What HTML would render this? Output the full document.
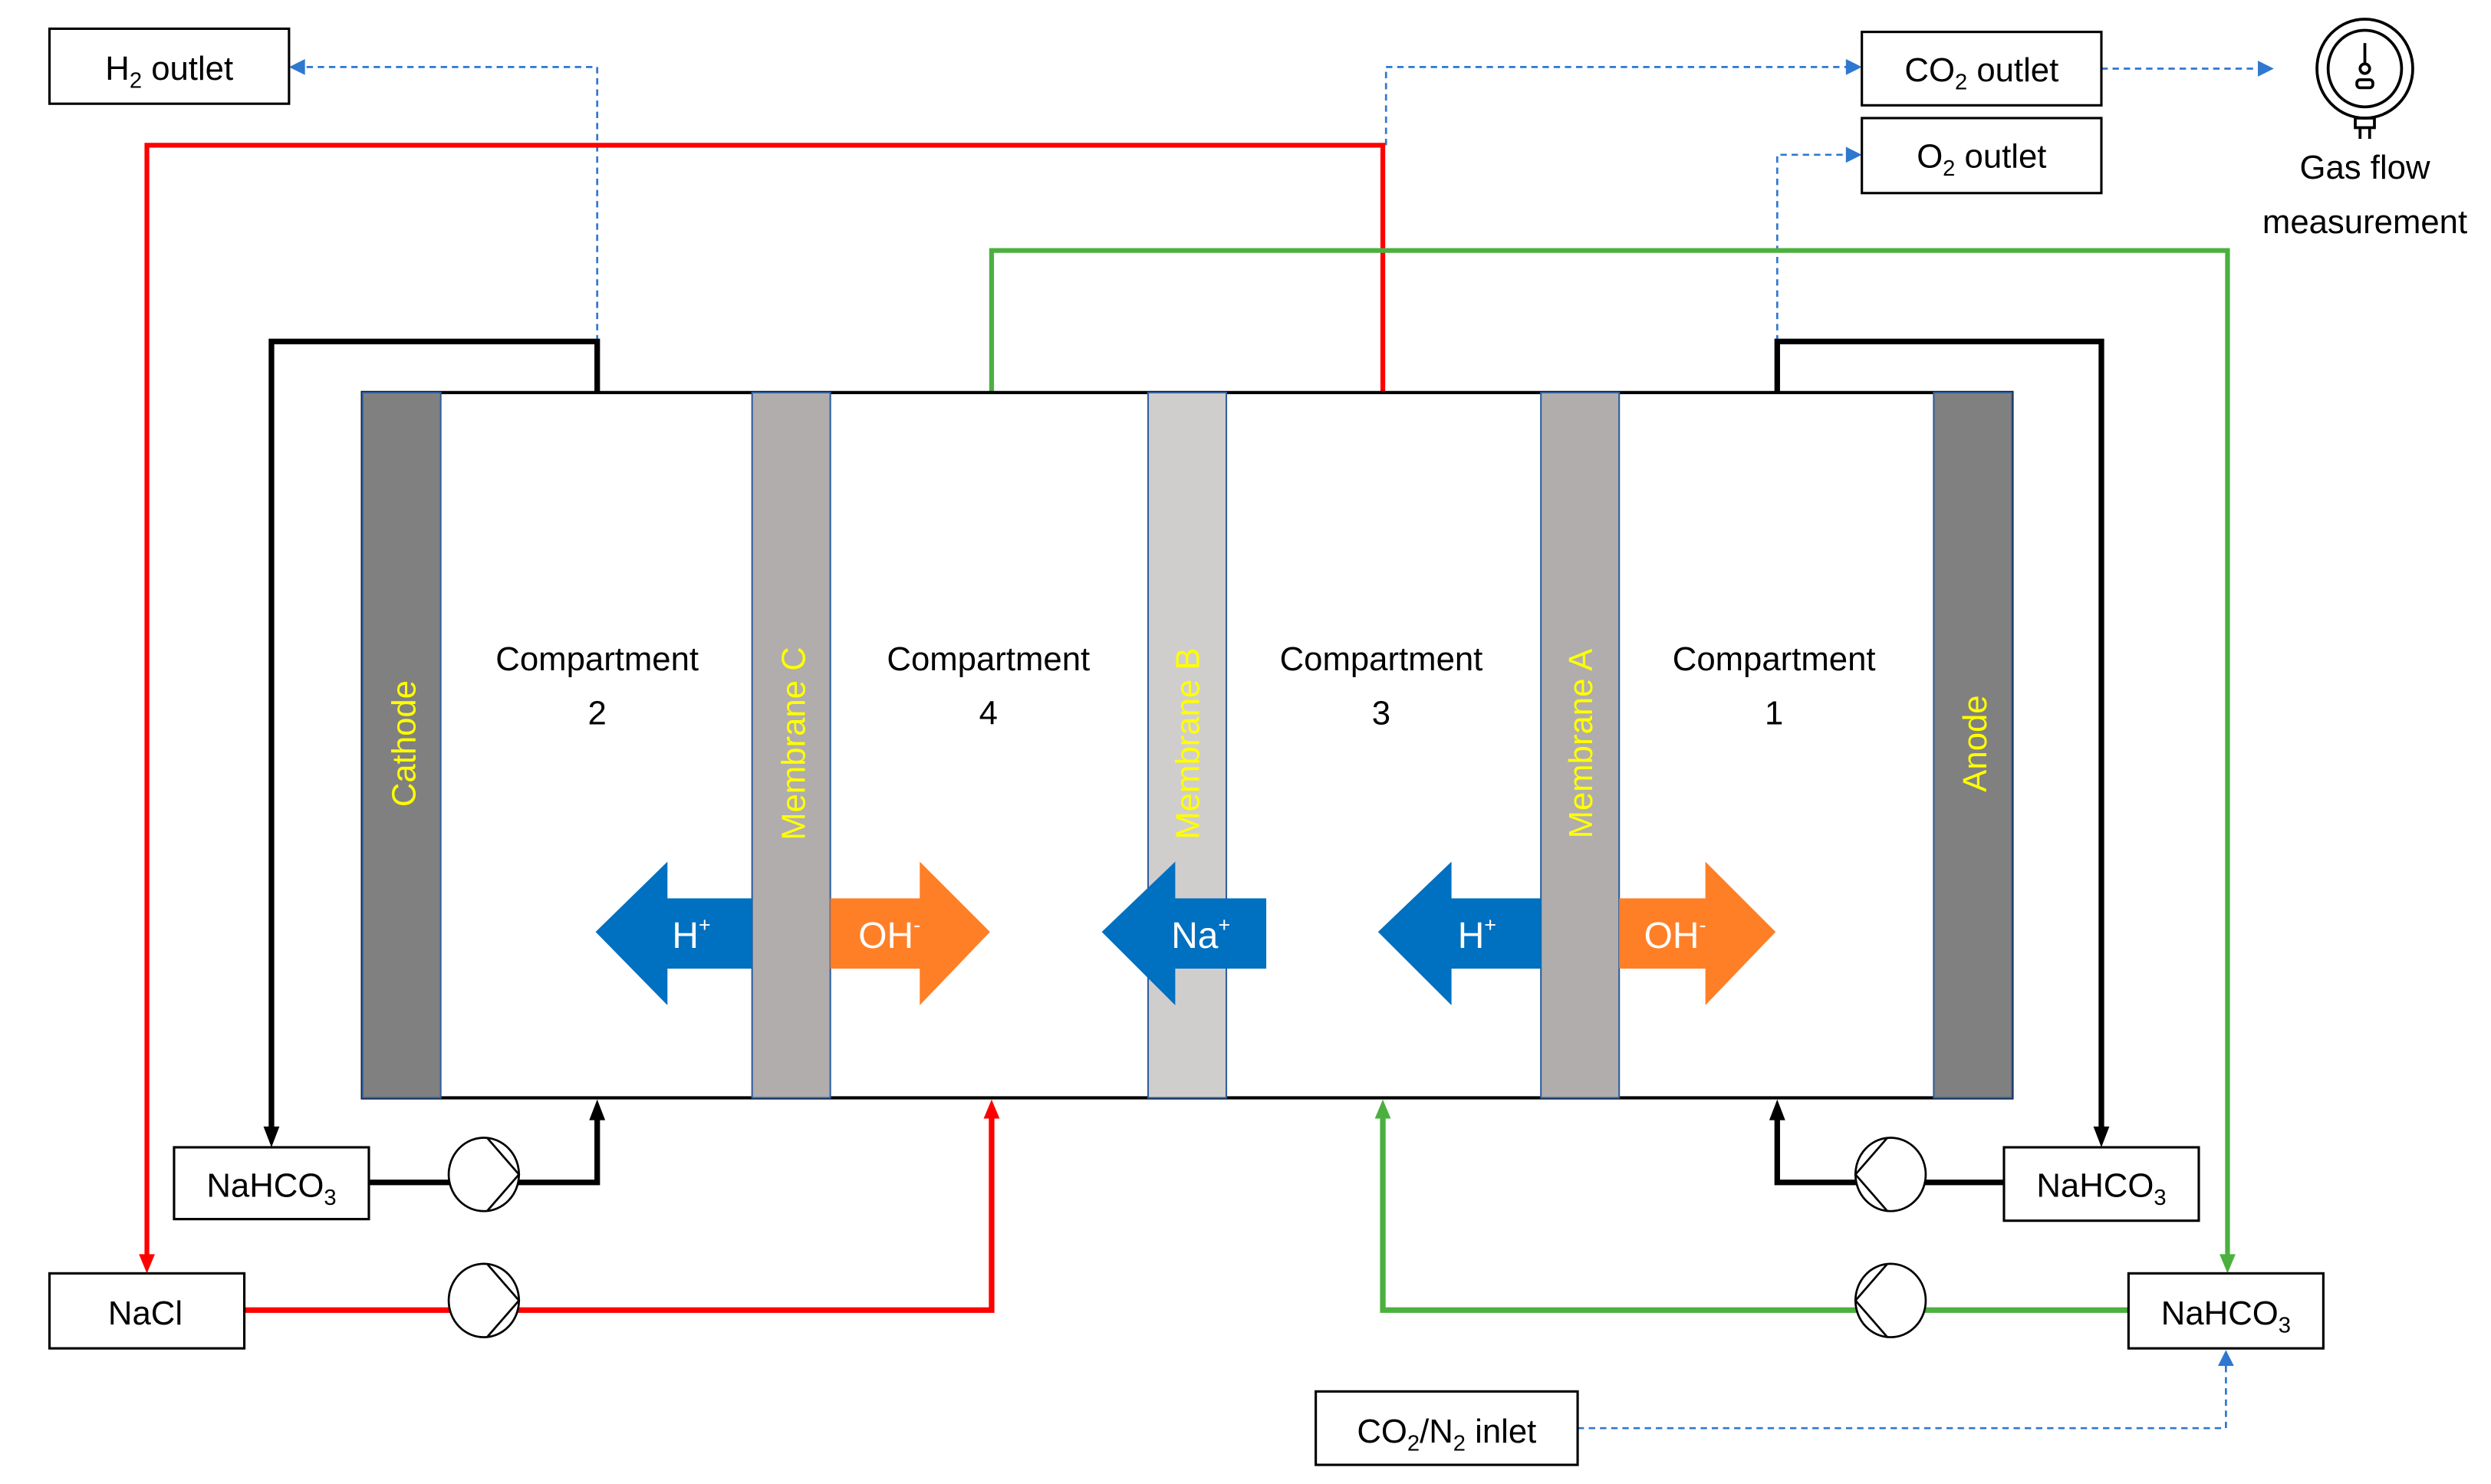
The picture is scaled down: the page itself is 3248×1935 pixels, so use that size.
<!DOCTYPE html>
<html><head><meta charset="utf-8"><style>
html,body{margin:0;padding:0;background:#fff;}
svg{display:block;}
text{font-family:"Liberation Sans",sans-serif;}
</style></head><body>
<svg width="3248" height="1935" viewBox="0 0 1560 930" preserveAspectRatio="none" xmlns="http://www.w3.org/2000/svg">

<!-- dashed gas lines -->
<g fill="none" stroke="#2f78d0" stroke-width="1.3" stroke-dasharray="4,3">
<polyline points="374,214 374,42 189,42"/>
<polyline points="868,91 868,42 1158,42"/>
<polyline points="1316,43 1414,43"/>
<polyline points="1113,214 1113,97 1158,97"/>
<polyline points="988,895 1394,895 1394,855"/>
</g>
<g fill="#2f78d0">
<polygon points="181,42 191,37 191,47"/>
<polygon points="1166,42 1156,37 1156,47"/>
<polygon points="1424,43 1414,38 1414,48"/>
<polygon points="1166,97 1156,92 1156,102"/>
<polygon points="1394,846 1389,856 1399,856"/>
</g>

<!-- red loop -->
<g fill="none" stroke="#ff0000" stroke-width="3">
<polyline points="866,246 866,91 92,91 92,788"/>
<polyline points="153,821 621,821 621,700" stroke-width="3.5"/>
</g>
<g fill="#ff0000">
<polygon points="92,798 87,786 97,786"/>
<polygon points="621,689 616,701 626,701"/>
</g>
<!-- green loop -->
<g fill="none" stroke="#4cb03f" stroke-width="3">
<polyline points="621,246 621,157 1395,157 1395,788"/>
<polyline points="1333,821 866,821 866,700" stroke-width="3.5"/>
</g>
<g fill="#4cb03f">
<polygon points="1395,798 1390,786 1400,786"/>
<polygon points="866,689 861,701 871,701"/>
</g>
<!-- black loops -->
<g fill="none" stroke="#000" stroke-width="3.5">
<polyline points="374,246 374,214 170,214 170,708"/>
<polyline points="231,741 374,741 374,700"/>
<polyline points="1113,246 1113,214 1316,214 1316,708"/>
<polyline points="1255,741 1113,741 1113,700"/>
</g>
<g fill="#000">
<polygon points="170,719 165,706 175,706"/>
<polygon points="1316,719 1311,706 1321,706"/>
<polygon points="374,689 369,702 379,702"/>
<polygon points="1113,689 1108,702 1118,702"/>
</g>

<!-- cell -->
<rect x="227" y="246" width="1033" height="442" fill="#fff" stroke="#000" stroke-width="2"/>
<g stroke="#2e5e9e" stroke-width="1">
<rect x="227" y="246" width="49" height="442" fill="#808080"/>
<rect x="471" y="246" width="49" height="442" fill="#b0adac"/>
<rect x="719" y="246" width="49" height="442" fill="#d0cecd"/>
<rect x="965" y="246" width="49" height="442" fill="#b0adac"/>
<rect x="1211" y="246" width="49" height="442" fill="#808080"/>
</g>
<g fill="#ffff00" font-size="21" text-anchor="middle">
<text transform="translate(260,466) rotate(-90)">Cathode</text>
<text transform="translate(504,466) rotate(-90)">Membrane C</text>
<text transform="translate(751,466) rotate(-90)">Membrane B</text>
<text transform="translate(997,466) rotate(-90)">Membrane A</text>
<text transform="translate(1244,466) rotate(-90)">Anode</text>
</g>
<g fill="#000" font-size="21" text-anchor="middle">
<text x="374" y="420">Compartment</text><text x="374" y="454">2</text>
<text x="619" y="420">Compartment</text><text x="619" y="454">4</text>
<text x="865" y="420">Compartment</text><text x="865" y="454">3</text>
<text x="1111" y="420">Compartment</text><text x="1111" y="454">1</text>
</g>

<!-- ion arrows -->
<polygon points="373,584 418,540 418,563 471,563 471,607 418,607 418,630" fill="#0070c0"/>
<polygon points="520,563 576,563 576,540 620,584 576,630 576,607 520,607" fill="#ff7f27"/>
<polygon points="690,584 736,540 736,563 793,563 793,607 736,607 736,630" fill="#0070c0"/>
<polygon points="863,584 909,540 909,563 965,563 965,607 909,607 909,630" fill="#0070c0"/>
<polygon points="1014,563 1068,563 1068,540 1112,584 1068,630 1068,607 1014,607" fill="#ff7f27"/>
<g fill="#fff" font-size="23" text-anchor="middle">
<text x="433" y="594">H<tspan font-size="13" dy="-10">+</tspan></text>
<text x="557" y="594">OH<tspan font-size="13" dy="-10">-</tspan></text>
<text x="752" y="594">Na<tspan font-size="13" dy="-10">+</tspan></text>
<text x="925" y="594">H<tspan font-size="13" dy="-10">+</tspan></text>
<text x="1049" y="594">OH<tspan font-size="13" dy="-10">-</tspan></text>
</g>

<!-- pumps -->
<g fill="#fff" stroke="#000" stroke-width="1.3">
<ellipse cx="303" cy="736" rx="22" ry="23"/>
<polyline points="305,713 325,736 305,759" fill="none"/>
<ellipse cx="303" cy="815" rx="22" ry="23"/>
<polyline points="305,792 325,815 305,838" fill="none"/>
<ellipse cx="1184" cy="736" rx="22" ry="23"/>
<polyline points="1182,713 1162,736 1182,759" fill="none"/>
<ellipse cx="1184" cy="815" rx="22" ry="23"/>
<polyline points="1182,792 1162,815 1182,838" fill="none"/>
</g>

<!-- boxes -->
<g fill="#fff" stroke="#000" stroke-width="1.5">
<rect x="31" y="18" width="150" height="47"/>
<rect x="1166" y="20" width="150" height="46"/>
<rect x="1166" y="74" width="150" height="47"/>
<rect x="109" y="719" width="122" height="45"/>
<rect x="1255" y="719" width="122" height="46"/>
<rect x="31" y="798" width="122" height="47"/>
<rect x="1333" y="798" width="122" height="47"/>
<rect x="824" y="872" width="164" height="46"/>
</g>
<g fill="#000" font-size="21" text-anchor="middle">
<text x="106" y="50">H<tspan font-size="14" dy="5">2</tspan><tspan dy="-5"> outlet</tspan></text>
<text x="1241" y="51">CO<tspan font-size="14" dy="5">2</tspan><tspan dy="-5"> outlet</tspan></text>
<text x="1241" y="105">O<tspan font-size="14" dy="5">2</tspan><tspan dy="-5"> outlet</tspan></text>
<text x="170" y="750">NaHCO<tspan font-size="14" dy="5">3</tspan></text>
<text x="1316" y="750">NaHCO<tspan font-size="14" dy="5">3</tspan></text>
<text x="1394" y="830">NaHCO<tspan font-size="14" dy="5">3</tspan></text>
<text x="91" y="830">NaCl</text>
<text x="906" y="904">CO<tspan font-size="14" dy="5">2</tspan><tspan dy="-5">/N</tspan><tspan font-size="14" dy="5">2</tspan><tspan dy="-5"> inlet</tspan></text>
<text x="1481" y="112">Gas flow</text>
<text x="1481" y="146">measurement</text>
</g>

<!-- gauge -->
<g fill="none" stroke="#000" stroke-width="1.8">
<ellipse cx="1481" cy="43" rx="30" ry="31"/>
<ellipse cx="1481" cy="43" rx="23" ry="24"/>
<line x1="1481" y1="27" x2="1481" y2="40"/>
<circle cx="1481" cy="43" r="3"/>
<rect x="1476" y="50" width="10" height="5" rx="2"/>
<rect x="1475" y="74" width="12" height="6"/>
<line x1="1478" y1="80" x2="1478" y2="87"/><line x1="1484" y1="80" x2="1484" y2="87"/>
</g>
</svg>
</body></html>
